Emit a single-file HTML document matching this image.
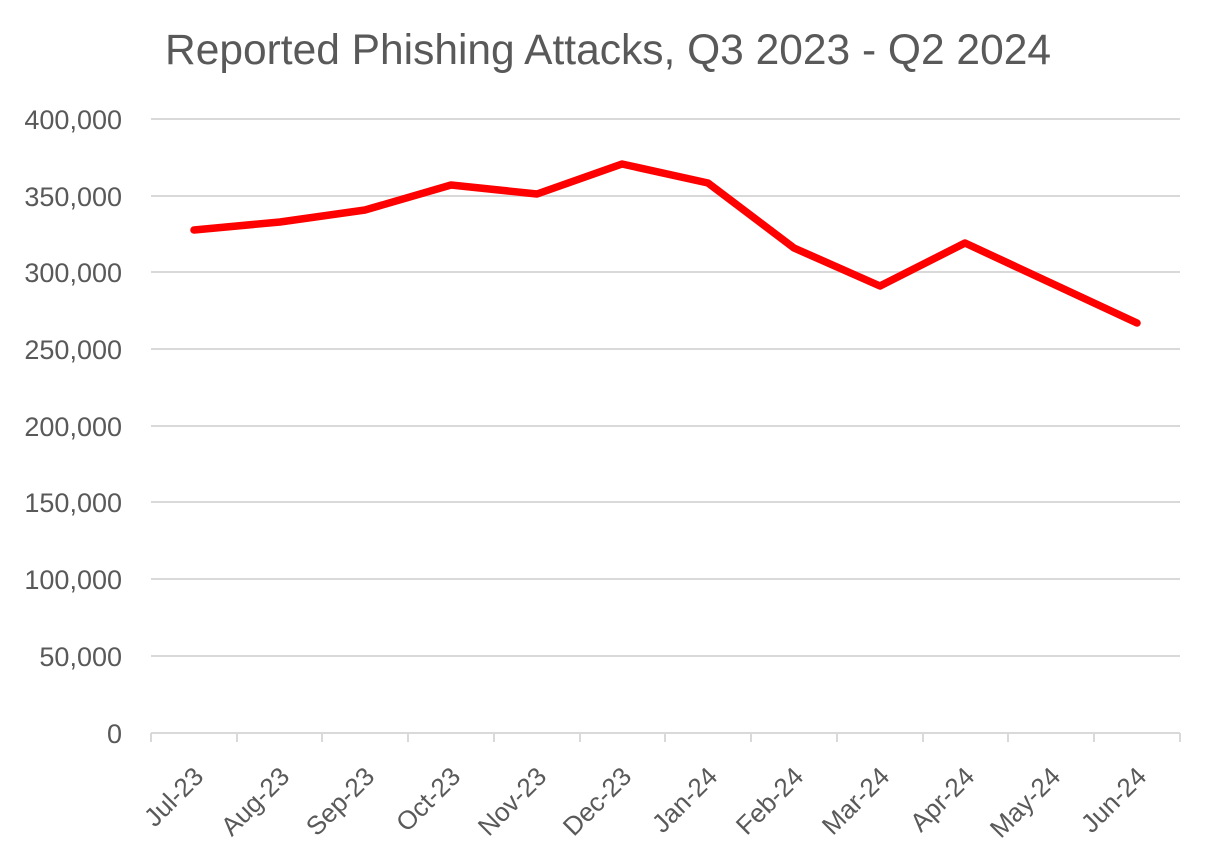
<!DOCTYPE html>
<html><head><meta charset="utf-8"><style>body{margin:0;background:#fff}svg{display:block}</style></head>
<body>
<svg width="1216" height="864" xmlns="http://www.w3.org/2000/svg" font-family="'Liberation Sans', sans-serif">
<text x="608" y="64" text-anchor="middle" font-size="42.5" fill="#595959">Reported Phishing Attacks, Q3 2023 - Q2 2024</text>
<g stroke="#d9d9d9" stroke-width="2">
<line x1="151" x2="1180" y1="119" y2="119"/><line x1="151" x2="1180" y1="196" y2="196"/>
<line x1="151" x2="1180" y1="272" y2="272"/><line x1="151" x2="1180" y1="349" y2="349"/>
<line x1="151" x2="1180" y1="426" y2="426"/><line x1="151" x2="1180" y1="502" y2="502"/>
<line x1="151" x2="1180" y1="579" y2="579"/><line x1="151" x2="1180" y1="656" y2="656"/>
<line x1="151" x2="1180" y1="733" y2="733"/>
<line x1="151" x2="151" y1="733" y2="742"/><line x1="237" x2="237" y1="733" y2="742"/>
<line x1="322" x2="322" y1="733" y2="742"/><line x1="408" x2="408" y1="733" y2="742"/>
<line x1="494" x2="494" y1="733" y2="742"/><line x1="580" x2="580" y1="733" y2="742"/>
<line x1="665" x2="665" y1="733" y2="742"/><line x1="751" x2="751" y1="733" y2="742"/>
<line x1="837" x2="837" y1="733" y2="742"/><line x1="923" x2="923" y1="733" y2="742"/>
<line x1="1008" x2="1008" y1="733" y2="742"/><line x1="1094" x2="1094" y1="733" y2="742"/>
<line x1="1180" x2="1180" y1="733" y2="742"/>
</g>
<g font-size="27" fill="#595959" text-anchor="end">
<text x="122" y="129">400,000</text><text x="122" y="206">350,000</text>
<text x="122" y="282">300,000</text><text x="122" y="359">250,000</text>
<text x="122" y="436">200,000</text><text x="122" y="512">150,000</text>
<text x="122" y="589">100,000</text><text x="122" y="666">50,000</text>
<text x="122" y="743">0</text>
</g>
<g font-size="26" fill="#595959" text-anchor="end">
<text transform="translate(205,778) rotate(-45)">Jul-23</text>
<text transform="translate(291,778) rotate(-45)">Aug-23</text>
<text transform="translate(376,778) rotate(-45)">Sep-23</text>
<text transform="translate(462,778) rotate(-45)">Oct-23</text>
<text transform="translate(548,778) rotate(-45)">Nov-23</text>
<text transform="translate(633,778) rotate(-45)">Dec-23</text>
<text transform="translate(719,778) rotate(-45)">Jan-24</text>
<text transform="translate(805,778) rotate(-45)">Feb-24</text>
<text transform="translate(891,778) rotate(-45)">Mar-24</text>
<text transform="translate(976,778) rotate(-45)">Apr-24</text>
<text transform="translate(1062,778) rotate(-45)">May-24</text>
<text transform="translate(1148,778) rotate(-45)">Jun-24</text>
</g>
<polyline fill="none" stroke="#ff0000" stroke-width="7.5" stroke-linejoin="round" stroke-linecap="round"
points="194,230 280,222 365,210 451,185 537,194 622,164 708,183 794,248 880,286 965,243 1051,283 1137,323"/>
</svg>
</body></html>
